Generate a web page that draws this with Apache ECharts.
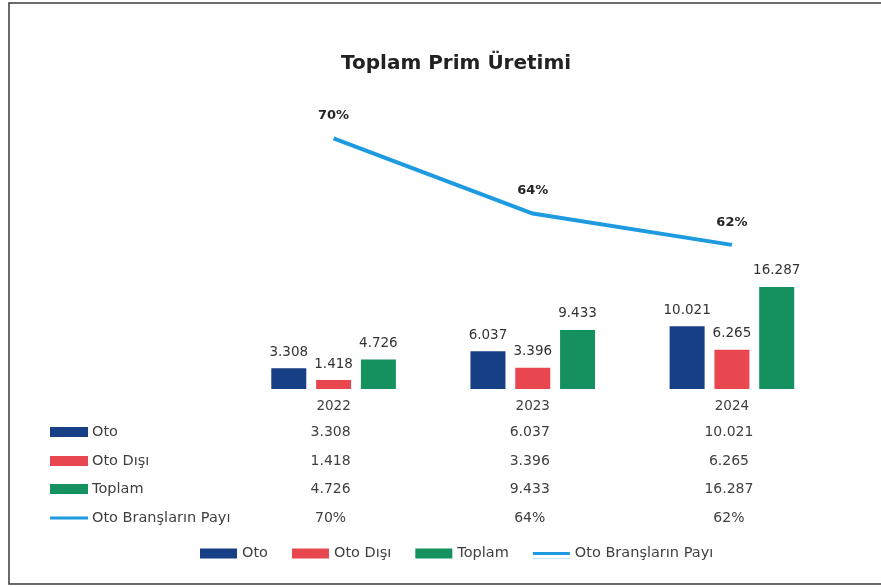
<!DOCTYPE html>
<html>
<head>
<meta charset="utf-8">
<script src="https://cdn.jsdelivr.net/npm/echarts@6/dist/echarts.min.js"></script>
<style>
html,body{margin:0;padding:0;background:#fff;}
#c{width:881px;height:587px;}
</style>
</head>
<body>
<div id="c"></div>
<script>
// ---- data ----
var years = ['2022', '2023', '2024'];
var oto = [3308, 6037, 10021];
var otoDisi = [1418, 3396, 6265];
var toplam = [4726, 9433, 16287];
var pay = [70.0, 64.0, 61.5];
var seriesNames = ['Oto', 'Oto Dışı', 'Toplam', 'Oto Branşların Payı'];
var titleText = 'Toplam Prim Üretimi';

var colors = ['#173f86', '#e8474f', '#14915f', '#1e9be0'];
var FONT = 'DejaVu Sans, Verdana, sans-serif';

function fmt(n) {
  return String(Math.round(n)).replace(/\B(?=(\d{3})+(?!\d))/g, '.');
}
function pct(v) { return v.toFixed(0) + '%'; }

var chart = echarts.init(document.getElementById('c'), null, {renderer: 'canvas'});

function barSeries(name, data, color) {
  return {
    name: name, type: 'bar', data: data, barWidth: 35, barGap: '28%',
    itemStyle: {color: color},
    label: {show: true, position: 'top', distance: 9, color: '#333', fontSize: 13.5,
      fontFamily: FONT, formatter: function (p) { return fmt(p.value); }}
  };
}

var lineIcon = 'path://M0,0h40v0.02h-40z M0,3.5h40v3h-40z M0,9.98h40v0.02h-40z';

var option = {
  animation: false,
  backgroundColor: '#fff',
  title: {
    text: titleText, left: 336, top: 49,
    textStyle: {fontFamily: FONT, fontWeight: 'bold', fontSize: 20, color: '#222'}
  },
  grid: {left: 234, right: 49.5, top: 107, bottom: 198},
  xAxis: {
    type: 'category', data: years,
    axisLine: {show: false}, axisTick: {show: false},
    axisLabel: {color: '#404040', fontSize: 13.5, fontFamily: FONT, margin: 10}
  },
  yAxis: [
    {type: 'value', min: 0, max: 45000, show: false, splitLine: {show: false}},
    {type: 'value', min: 50, max: 72.5, show: false, splitLine: {show: false}}
  ],
  legend: {
    bottom: 21, left: 195, itemWidth: 37, itemHeight: 10, itemGap: 24,
    textStyle: {color: '#404040', fontSize: 14.5, fontFamily: FONT},
    data: [
      {name: seriesNames[0], icon: 'rect'},
      {name: seriesNames[1], icon: 'rect'},
      {name: seriesNames[2], icon: 'rect'},
      {name: seriesNames[3], icon: lineIcon, itemStyle: {color: colors[3]}}
    ]
  },
  series: [
    barSeries(seriesNames[0], oto, colors[0]),
    barSeries(seriesNames[1], otoDisi, colors[1]),
    barSeries(seriesNames[2], toplam, colors[2]),
    {
      name: seriesNames[3], type: 'line', yAxisIndex: 1, data: pay,
      symbol: 'circle', symbolSize: 0, showSymbol: true, color: colors[3],
      lineStyle: {color: colors[3], width: 4},
      label: {show: true, position: 'top', distance: 16, fontWeight: 'bold',
        fontSize: 13, color: '#262626', fontFamily: FONT,
        formatter: function (p) { return pct(p.value); }}
    }
  ]
};
chart.setOption(option);

// data table beneath the chart
var rows = [oto, otoDisi, toplam, pay];
var rowY = [432, 461, 489, 518];
var g = [];
g.push({type: 'rect', shape: {x: 9, y: 3, width: 900, height: 581},
  style: {fill: 'none', stroke: '#3a3a3a', lineWidth: 1.5}, z: 100});
for (var r = 0; r < rows.length; r++) {
  var y = rowY[r];
  if (r < 3) {
    g.push({type: 'rect', shape: {x: 50, y: y - 5, width: 38, height: 10},
      style: {fill: colors[r]}});
  } else {
    g.push({type: 'rect', shape: {x: 50, y: y - 1.5, width: 38, height: 3},
      style: {fill: colors[3]}});
  }
  g.push({type: 'text', x: 92, y: y,
    style: {text: seriesNames[r], fill: '#404040', fontSize: 14.5, fontFamily: FONT,
      textVerticalAlign: 'middle', verticalAlign: 'middle'}});
  for (var i = 0; i < years.length; i++) {
    var px = chart.convertToPixel({xAxisIndex: 0}, years[i]);
    g.push({type: 'text', x: px - 3, y: y,
      style: {text: r < 3 ? fmt(rows[r][i]) : pct(rows[r][i]), fill: '#404040',
        fontSize: 14, fontFamily: FONT, align: 'center', textAlign: 'center',
        verticalAlign: 'middle', textVerticalAlign: 'middle'}});
  }
}
chart.setOption({graphic: g});
</script>
</body>
</html>
